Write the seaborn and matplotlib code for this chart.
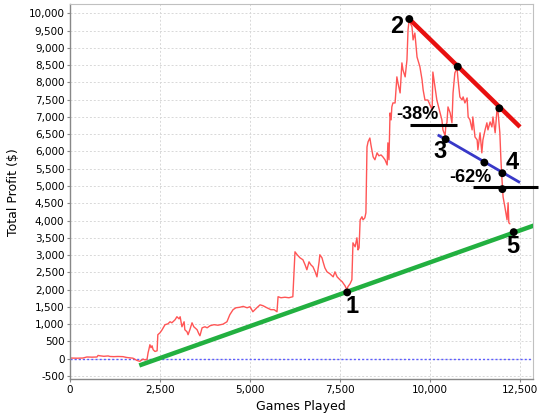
import matplotlib
matplotlib.use("Agg")
import matplotlib.pyplot as plt
import seaborn as sns
import pandas as pd

games = [0,190,360,470,610,750,780,830,940,1060,1110,1220,1330,1470,1580,1750,1860,1940,2030,2080,2140,2170,2190,2220,2250,2280,2310,2360,2420,2440,2500,2560,2640,2720,2780,2830,2920,2970,3030,3060,3110,3170,3190,3250,3280,3330,3390,3440,3530,3580,3610,3670,3750,3810,3890,4000,4110,4250,4360,4440,4530,4610,4720,4810,4920,5000,5080,5190,5280,5360,5470,5580,5670,5750,5780,5860,5970,6080,6190,6250,6310,6390,6470,6530,6580,6640,6690,6750,6810,6860,6920,6940,7000,7030,7080,7140,7220,7310,7360,7420,7500,7560,7580,7640,7690,7720,7780,7830,7860,7920,7970,8000,8030,8060,8110,8140,8190,8220,8250,8280,8330,8360,8420,8470,8530,8580,8640,8690,8750,8810,8830,8860,8890,8920,8940,8970,9030,9080,9110,9170,9220,9250,9310,9360,9390,9420,9440,9500,9530,9580,9640,9720,9780,9810,9860,9940,10000,10060,10080,10140,10190,10280,10330,10360,10420,10440,10470,10500,10560,10610,10640,10690,10750,10780,10830,10890,10920,10970,11030,11060,11110,11170,11190,11250,11310,11330,11390,11440,11470,11530,11580,11610,11670,11720,11750,11810,11860,11890,11940,11970,12000,12030,12080,12140,12170,12190,12220]
profit = [20,15,20,50,45,50,95,85,70,80,65,60,65,60,35,15,-50,-75,-10,-35,-20,175,260,405,320,375,260,210,230,695,750,840,985,1010,1070,1040,1130,1215,1155,1215,925,1070,840,780,695,840,1040,925,840,720,665,895,925,895,955,985,970,1000,1070,1275,1420,1475,1490,1515,1475,1505,1360,1475,1560,1535,1475,1420,1420,1360,1795,1765,1780,1765,1795,3095,3010,2920,2865,2720,2575,2805,2720,2660,2515,2370,2805,3010,2920,2805,2630,2515,2460,2370,2515,2370,2285,2230,2200,2110,2000,2085,2170,2285,3355,3240,3500,3150,3210,4020,4110,4020,4080,4225,6130,6280,6390,6190,5845,5760,5960,5875,5900,5845,5760,5610,6250,5760,7115,6915,7290,7405,7405,8160,7985,7695,8565,8360,8160,8650,9520,9805,9750,9605,9230,9430,8735,8450,8070,7780,7490,7490,7350,7200,8300,7870,7490,7115,6915,6625,6450,6770,6830,7290,7115,6830,7695,8270,8420,8070,7580,7490,7580,7405,7550,7000,6915,6625,7000,6420,6335,6045,6540,5960,6335,6625,6830,6625,6855,6710,7000,6540,7200,7150,6540,5760,5180,4685,4395,4020,4515,3935,3905]

# trend lines
red_x = [9425, 12500]
red_y = [9835, 6710]
blue_x = [10215, 12500]
blue_y = [6480, 5100]
green_x = [1925, 12950]
green_y = [-195, 3880]
level1_x = [9440, 10750]
level1_y = [6770, 6770]
level2_x = [11200, 13000]
level2_y = [4965, 4965]

# marker dots
dot_x = [7700, 9425, 10770, 11925, 10435, 11510, 12010, 12010, 12325]
dot_y = [1920, 9835, 8455, 7250, 6355, 5680, 5370, 4910, 3665]

# labels
num_labels = ["1", "2", "3", "4", "5"]
num_x = [7840, 9075, 10280, 12270, 12310]
num_y = [1510, 9630, 5990, 5670, 3240]
pct_labels = ["-38%", "-62%"]
pct_x = [9640, 11110]
pct_y = [7060, 5235]

x_ticks = [0, 2500, 5000, 7500, 10000, 12500]
y_ticks = list(range(-500, 10001, 500))

sns.set_theme(style="white")
plt.rcParams['font.family'] = ['DejaVu Sans']
plt.rcParams['text.color'] = 'black'
plt.rcParams['axes.labelcolor'] = 'black'
plt.rcParams['xtick.labelcolor'] = 'black'
plt.rcParams['ytick.labelcolor'] = 'black'

fig = plt.figure(figsize=(5.4, 4.2), dpi=100)
ax = fig.add_axes([0.1296, 0.0969, 0.8569, 0.8936])

df = pd.DataFrame({"Games Played": games, "Total Profit ($)": profit})

ax.axhline(0, color="#5c5cff", lw=1.0, ls=(0, (1.5, 1.5)), zorder=1.5)
sns.lineplot(data=df, x="Games Played", y="Total Profit ($)", ax=ax,
             color="#ff5555", lw=1.0, estimator=None, sort=False, zorder=2)

ax.plot(green_x, green_y, color="#22b040", lw=3.2, solid_capstyle="butt", zorder=3)
ax.plot(red_x, red_y, color="#e81010", lw=3.2, solid_capstyle="butt", zorder=3)
ax.plot(blue_x, blue_y, color="#3838c8", lw=2.0, solid_capstyle="butt", zorder=3)
ax.plot(level1_x, level1_y, color="black", lw=2.2, solid_capstyle="butt", zorder=3)
ax.plot(level2_x, level2_y, color="black", lw=2.2, solid_capstyle="butt", zorder=3, clip_on=False)

sns.scatterplot(x=dot_x, y=dot_y, ax=ax, color="black", s=32, edgecolor="none", zorder=4)

for t, x, y in zip(num_labels, num_x, num_y):
    ax.text(x, y, t, fontsize=17, fontweight="bold", ha="center", va="center",
            color="black", family=["Liberation Sans", "DejaVu Sans"], zorder=5)
for t, x, y in zip(pct_labels, pct_x, pct_y):
    ax.text(x, y, t, fontsize=13, fontweight="bold", ha="center", va="center",
            color="black", family=["Liberation Sans", "DejaVu Sans"], zorder=5)

ax.set_xlim(0, 12853)
ax.set_ylim(-596, 10270)
ax.set_xticks(x_ticks)
ax.set_yticks(y_ticks)
ax.set_xticklabels([f"{v:,}" for v in x_ticks])
ax.set_yticklabels([f"{v:,}" for v in y_ticks])
ax.tick_params(axis="both", labelsize=7.5, length=2, width=0.8, color="#888888",
               labelcolor="black", pad=2, direction="out", left=True, bottom=True)
ax.grid(True, color="#d8d8d8", lw=0.7, ls=(0, (2, 2)))
ax.set_axisbelow(True)
for s in ["left", "bottom"]:
    ax.spines[s].set_color("#888888")
    ax.spines[s].set_linewidth(1.0)
for s in ["top", "right"]:
    ax.spines[s].set_color("#c0c0c0")
    ax.spines[s].set_linewidth(0.8)

ax.set_xlabel("Games Played", fontsize=9, labelpad=4, color="black")
ax.set_ylabel("Total Profit ($)", fontsize=9, labelpad=6, color="black")
if ax.get_legend():
    ax.get_legend().remove()

fig.savefig("out.png", dpi=100)
